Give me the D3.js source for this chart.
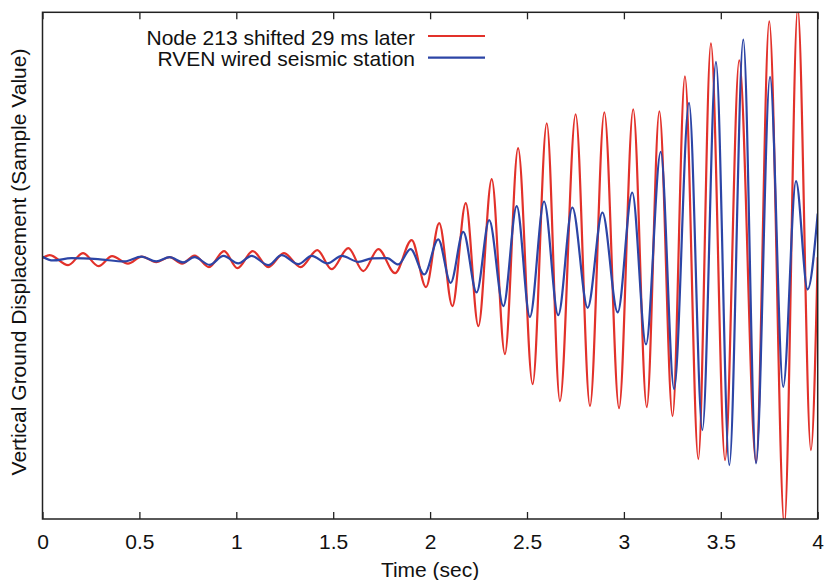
<!DOCTYPE html>
<html lang="en">
<head>
    <meta charset="UTF-8">
    <title>Node 213 vs RVEN</title>
    <style>
        body { margin: 0; padding: 0; background: #ffffff; }
        svg { display: block; }
        text { font-family: "Liberation Sans", Arial, Helvetica, sans-serif; fill: #111; }
    </style>
    <script src="https://d3js.org/d3.v7.min.js"></script>
</head>
<body>
    <script>
        // Node 213 (shifted 29 ms later): extrema
        const nodeTimes = [0, 0.037, 0.132, 0.209, 0.289, 0.359, 0.441, 0.513, 0.587, 0.656,
            0.720, 0.785, 0.859, 0.937, 1.006, 1.085, 1.165, 1.246, 1.332, 1.418,
            1.492, 1.578, 1.655, 1.733, 1.819, 1.905, 1.979, 2.047, 2.115, 2.184,
            2.249, 2.318, 2.386, 2.454, 2.529, 2.602, 2.670, 2.751, 2.825, 2.899,
            2.975, 3.048, 3.118, 3.183, 3.251, 3.315, 3.384, 3.449, 3.522, 3.595,
            3.682, 3.750, 3.828, 3.897, 3.965, 4.0];
        const nodeValues = [1, 4, -6, 6, -7, 3, -4.5, 2.5, -3, 2,
            -4.5, 3.5, -8, 8, -9, 8, -8, 6, -8, 9,
            -10, 11, -12, 10, -14, 19, -28, 36, -47, 56,
            -67, 80, -95, 111, -125, 136, -142, 145, -147, 147,
            -149, 150, -148, 148, -157, 183, -200, 216, -201, 199,
            -203, 238, -266, 251, -191, 2];

        // RVEN wired seismic station
        const rvenTimes = [0, 0.054, 0.149, 0.286, 0.424, 0.510, 0.587, 0.656, 0.725, 0.785,
            0.862, 0.934, 1.010, 1.079, 1.165, 1.234, 1.320, 1.389, 1.470, 1.544,
            1.630, 1.700, 1.778, 1.836, 1.899, 1.970, 2.042, 2.106, 2.171, 2.240,
            2.305, 2.378, 2.447, 2.515, 2.588, 2.661, 2.734, 2.813, 2.889, 2.968,
            3.043, 3.114, 3.190, 3.259, 3.336, 3.405, 3.475, 3.544, 3.616, 3.682,
            3.754, 3.822, 3.888, 3.948, 4.0];
        const rvenValues = [2.5, -1.3, 1, 0, -2.3, 2.5, -2.3, 2, -3.3, 2,
            -5.7, 3.3, -4.3, 3.3, -6, 4, -5, 3.3, -4.3, 3.3,
            -2.7, 0.7, 1, -5.3, 10, -15.3, 19.7, -23.7, 27.3, -33.3,
            39, -47, 53, -57.7, 57.7, -56, 51.7, -48.7, 46.7, -53.3,
            66.7, -85.3, 107.3, -130, 156.3, -171, 197.3, -206, 219.7, -204.3,
            182.3, -127.7, 78, -30.3, 45.7];

        const xTicks = [0, 0.5, 1, 1.5, 2, 2.5, 3, 3.5, 4];
        const seriesNames = ["Node 213 shifted 29 ms later", "RVEN wired seismic station"];
        const seriesColors = ["#e2312a", "#2c45a6"];

        const width = 824;
        const height = 580;
        const margin = { top: 12.3, right: 6.3, bottom: 61, left: 42.5 };

        const svg = d3.select("body").append("svg")
            .attr("width", width)
            .attr("height", height);

        const x = d3.scaleLinear()
            .domain([0, 4])
            .range([margin.left, width - margin.right]);

        const y = d3.scaleLinear()
            .domain([-260, 247])
            .range([height - margin.bottom, margin.top]);

        // clip to the plot box
        svg.append("clipPath").attr("id", "plotClip")
            .append("rect")
            .attr("x", margin.left)
            .attr("y", margin.top)
            .attr("width", width - margin.left - margin.right)
            .attr("height", height - margin.top - margin.bottom);

        const line = d3.line()
            .x(d => x(d[0]))
            .y(d => y(d[1]))
            .curve(d3.curveMonotoneX);

        const series = [
            d3.zip(nodeTimes, nodeValues),
            d3.zip(rvenTimes, rvenValues)
        ];

        const plot = svg.append("g").attr("clip-path", "url(#plotClip)");
        series.forEach((s, i) => {
            plot.append("path")
                .datum(s)
                .attr("d", line)
                .attr("fill", "none")
                .attr("stroke", seriesColors[i])
                .attr("stroke-width", 2.2)
                .attr("stroke-linejoin", "round");
        });

        // bottom axis with inward ticks
        const xAxis = svg.append("g")
            .attr("transform", `translate(0,${height - margin.bottom})`)
            .call(d3.axisBottom(x).tickValues(xTicks).tickFormat(d => String(d))
                .tickSizeInner(-7).tickSizeOuter(0));
        xAxis.select(".domain").remove();
        xAxis.selectAll("line").attr("stroke", "#222").attr("stroke-width", 1.3);
        xAxis.selectAll("text")
            .attr("y", 30)
            .attr("dy", null)
            .style("font-size", "21px")
            .style("font-family", "'Liberation Sans', Arial, sans-serif")
            .attr("fill", "#111");

        // top ticks, no labels
        const xTop = svg.append("g")
            .attr("transform", `translate(0,${margin.top})`)
            .call(d3.axisTop(x).tickValues(xTicks).tickFormat("")
                .tickSizeInner(-7).tickSizeOuter(0));
        xTop.select(".domain").remove();
        xTop.selectAll("line").attr("stroke", "#222").attr("stroke-width", 1.3);

        // frame
        svg.append("rect")
            .attr("x", margin.left)
            .attr("y", margin.top)
            .attr("width", width - margin.left - margin.right)
            .attr("height", height - margin.top - margin.bottom)
            .attr("fill", "none")
            .attr("stroke", "#222")
            .attr("stroke-width", 1.5);

        // axis titles
        svg.append("text")
            .attr("x", (margin.left + width - margin.right) / 2)
            .attr("y", 577)
            .attr("text-anchor", "middle")
            .style("font-size", "21px")
            .text("Time (sec)");

        svg.append("text")
            .attr("transform", `translate(26,${262}) rotate(-90)`)
            .attr("text-anchor", "middle")
            .style("font-size", "21px")
            .text("Vertical Ground Displacement (Sample Value)");

        // legend
        const legend = svg.append("g");
        seriesNames.forEach((name, i) => {
            const cy = 36 + i * 21.7;
            legend.append("text")
                .attr("x", 415)
                .attr("y", cy + 8.5)
                .attr("text-anchor", "end")
                .style("font-size", "21px")
                .text(name);
            legend.append("line")
                .attr("x1", 428).attr("x2", 485)
                .attr("y1", cy).attr("y2", cy)
                .attr("stroke", seriesColors[i])
                .attr("stroke-width", 2.2);
        });
    </script>
</body>
</html>
